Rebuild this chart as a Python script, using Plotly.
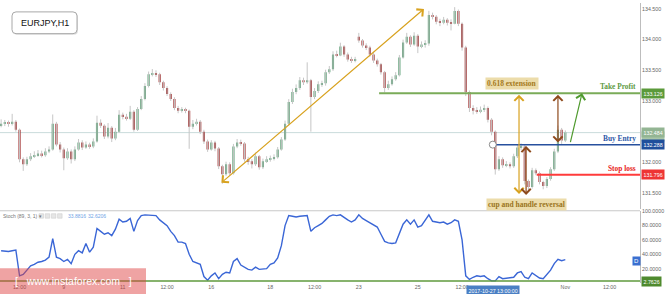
import pandas as pd
import plotly.graph_objects as go

# ---------------- data ----------------
closes = [
    132.629, 132.645, 132.629, 132.661, 132.532, 132.048, 131.968, 132.048, 132.097, 132.113,
    132.145, 132.113, 132.177, 132.210, 132.629, 132.290, 132.210, 132.065, 132.177, 132.048,
    132.210, 132.323, 132.242, 132.290, 132.258, 132.339, 132.645, 132.597, 132.419, 132.565,
    132.387, 132.500, 132.774, 132.742, 132.710, 132.823, 132.532, 132.871, 133.032, 133.242,
    133.435, 133.452, 133.435, 133.306, 133.210, 133.113, 133.032, 132.887, 132.839, 132.855,
    132.839, 132.581, 132.629, 132.661, 132.500, 132.339, 132.210, 132.323, 132.226, 131.935,
    131.806, 131.968, 131.823, 132.258, 132.323, 132.306, 132.048, 132.016, 131.968, 132.097,
    131.919, 132.016, 132.048, 132.065, 132.081, 132.210, 132.371, 132.629, 132.984, 133.145,
    133.210, 133.339, 133.306, 133.339, 133.065, 133.161, 133.274, 133.290, 133.468, 133.516,
    133.758, 133.742, 133.887, 133.758, 133.677, 133.661, 133.677, 133.984, 133.903, 133.871,
    133.758, 133.661, 133.597, 133.468, 133.210, 133.274, 133.355, 133.419, 133.710, 133.952,
    134.048, 133.919, 134.065, 133.887, 133.919, 133.935, 134.403, 134.371, 134.290, 134.274,
    134.323, 134.274, 134.258, 134.468, 134.258, 133.871, 133.145, 132.887, 132.839, 132.823,
    132.855, 132.887, 132.694, 132.500, 131.887, 132.048, 131.952, 131.968, 131.935, 132.097,
    132.242, 132.258, 131.694, 131.597, 131.871, 131.823, 131.677, 131.613, 131.726, 131.887,
    132.177, 132.532, 132.355, 132.484,
]
highs = [
    132.700, 132.690, 132.680, 132.790, 132.690, 132.550, 132.080, 132.090, 132.150, 132.180,
    132.200, 132.190, 132.230, 132.260, 132.780, 132.660, 132.330, 132.240, 132.230, 132.210,
    132.260, 132.380, 132.360, 132.340, 132.320, 132.390, 132.760, 132.700, 132.620, 132.640,
    132.590, 132.560, 132.850, 132.810, 132.790, 132.920, 132.850, 132.900, 133.080, 133.290,
    133.480, 133.520, 133.500, 133.460, 133.330, 133.240, 133.140, 133.060, 132.920, 132.900,
    132.890, 132.860, 132.690, 132.710, 132.690, 132.530, 132.370, 132.360, 132.350, 132.250,
    131.960, 132.010, 132.000, 132.300, 132.380, 132.370, 132.330, 132.090, 132.050, 132.160,
    132.120, 132.060, 132.100, 132.110, 132.130, 132.250, 132.410, 132.680, 133.030, 133.200,
    133.270, 133.390, 133.380, 133.630, 133.360, 133.210, 133.320, 133.330, 133.510, 133.570,
    133.810, 133.820, 133.950, 133.910, 133.790, 133.720, 133.720, 134.110, 134.010, 133.940,
    133.900, 133.790, 133.690, 133.620, 133.490, 133.330, 133.400, 133.470, 133.750, 134.000,
    134.110, 134.070, 134.120, 134.090, 133.970, 133.990, 134.470, 134.440, 134.400, 134.340,
    134.370, 134.350, 134.330, 134.530, 134.490, 134.280, 133.900, 133.170, 132.930, 132.900,
    132.910, 132.940, 132.910, 132.720, 132.520, 132.100, 132.080, 132.020, 132.000, 132.140,
    132.290, 132.310, 132.280, 131.720, 131.910, 131.900, 131.850, 131.700, 131.760, 131.920,
    132.220, 132.600, 132.560, 132.520,
]
lows = [
    132.570, 132.590, 132.580, 132.600, 132.500, 132.000, 131.860, 131.940, 132.020, 132.070,
    132.090, 132.080, 132.090, 132.150, 132.190, 132.260, 132.160, 131.870, 132.040, 131.980,
    132.020, 132.190, 132.200, 132.220, 132.220, 132.230, 132.320, 132.560, 132.380, 132.390,
    132.330, 132.360, 132.480, 132.700, 132.680, 132.690, 132.500, 132.510, 132.850, 133.010,
    133.220, 133.400, 133.390, 133.260, 133.170, 133.080, 133.000, 132.850, 132.800, 132.810,
    132.800, 132.220, 132.540, 132.600, 132.460, 132.300, 132.170, 132.190, 132.180, 131.890,
    131.650, 131.780, 131.790, 131.800, 132.230, 132.270, 132.010, 131.960, 131.900, 131.940,
    131.880, 131.890, 131.990, 132.010, 132.030, 132.060, 132.190, 132.350, 132.600, 132.950,
    133.110, 133.180, 133.260, 133.280, 132.500, 133.030, 133.130, 133.230, 133.250, 133.440,
    133.490, 133.710, 133.730, 133.720, 133.640, 133.620, 133.630, 133.950, 133.870, 133.830,
    133.720, 133.620, 133.560, 133.430, 133.140, 133.180, 133.250, 133.330, 133.400, 133.690,
    133.930, 133.880, 133.900, 133.780, 133.860, 133.870, 133.900, 134.330, 134.250, 134.220,
    134.250, 134.230, 134.150, 134.250, 134.220, 133.820, 133.080, 132.820, 132.780, 132.790,
    132.800, 132.820, 132.650, 132.440, 131.800, 131.860, 131.910, 131.920, 131.900, 131.910,
    132.070, 132.200, 131.640, 131.540, 131.570, 131.790, 131.640, 131.560, 131.580, 131.700,
    131.860, 132.150, 132.300, 132.330,
]
first_open = 132.600
gap_index = 97          # Monday 23 Oct opening gap
gap_open = 134.048

stoch_d = [
    45, 44, 44, 45, 46, 10, 12, 18, 24, 26,
    29, 30, 32, 36, 62, 36, 34, 30, 33, 27,
    40, 45, 42, 55, 43, 50, 76, 72, 68, 70,
    66, 75, 89, 85, 86, 90, 72, 87, 94, 95,
    95, 95, 94, 88, 84, 80, 72, 66, 57, 57,
    55, 40, 30, 28, 26, 9, 4, 10, 14, 6,
    12, 15, 14, 30, 34, 25, 22, 19, 18, 22,
    19, 20, 20, 26, 28, 35, 52, 80, 94, 93,
    92, 93, 93, 94, 72, 77, 80, 83, 88, 93,
    95, 94, 95, 91, 88, 85, 88, 95, 90, 87,
    84, 80, 78, 68, 58, 56, 55, 56, 70, 82,
    88, 82, 88, 78, 80, 88, 95, 86, 85, 84,
    85, 82, 84, 88, 86, 60, 10, 5, 8, 10,
    9, 10, 6, 3, 3, 9, 6, 7, 7, 8,
    14, 16, 8, 6, 14, 10, 7, 6, 12, 18,
    27, 33, 31, 32.62,
]
stoch_main_text = "33.8816"
stoch_signal_text = "32.6206"

take_profit = 133.126
buy_entry = 132.288
stop_loss = 131.796
last_price = 132.484
hidden_price = 132.420
stoch_level = 2.7626

tick_vals = ["2017-10-05 12:00", "2017-10-09", "2017-10-11", "2017-10-12 12:00", "2017-10-16",
             "2017-10-18", "2017-10-19 12:00", "2017-10-23", "2017-10-25", "2017-10-26 12:00",
             "2017-11-01", "2017-11-02 12:00"]
tick_text = ["12:00", "9", "11", "12:00", "16", "18", "12:00", "23", "25", "12:00", "Nov", "12:00"]
price_ticks = [131.5, 132.0, 132.5, 133.0, 133.5, 134.0, 134.5]
stoch_ticks = [20, 40, 60, 80, 100]

# drawing anchors (time, price)
impulse_start = ("2017-10-16 07:00", 131.645)
impulse_end = ("2017-10-25 05:00", 134.500)
tp_start = "2017-10-23 16:30"
entry_time = "2017-10-27 13:00"
sl_start = "2017-10-31 00:45"
ext_arrow = ("2017-10-30 10:20", 133.126, 131.484)
cup_arrow = ("2017-10-30 16:05", 132.290, 131.468)
handle_arrow = ("2017-10-31 18:00", 133.126, 132.323)
target_arrow = (("2017-11-01 03:50", 132.306), ("2017-11-01 13:35", 133.126))
ext_label = ("2017-10-30 05:00", 133.282)
cup_label = ("2017-10-30 16:05", 131.306)
x_range = ["2017-10-04 20:06", "2017-11-03 12:45"]

# ---------------- build ----------------
t = pd.date_range("2017-10-04 21:00", "2017-11-01 00:00", freq="3h")
t = t[t.dayofweek < 5]

opens = [first_open] + closes[:-1]
opens[gap_index] = gap_open
body_lo = [min(o, c) for o, c in zip(opens, closes)]
body_h = [abs(c - o) for o, c in zip(opens, closes)]

UP, DN, WICK = "#4f9a6c", "#9c1f1f", "#c6c6c6"
FONT = "Liberation Sans, Arial, sans-serif"
SERIF = "Liberation Serif, Times New Roman, serif"

wx, wy = [], []
for ti, lo, hi in zip(t, lows, highs):
    wx += [ti, ti, None]
    wy += [lo, hi, None]

fig = go.Figure()
fig.add_trace(go.Scatter(x=wx, y=wy, mode="lines", line=dict(color=WICK, width=1),
                         hoverinfo="skip", xaxis="x", yaxis="y"))
fig.add_trace(go.Bar(x=t, y=body_h, base=body_lo, width=1.7 * 3600 * 1000,
                     marker=dict(color=[UP if c >= o else DN for o, c in zip(opens, closes)],
                                 line=dict(width=0)),
                     hoverinfo="skip", xaxis="x", yaxis="y"))
fig.add_trace(go.Scatter(
    x=t, y=stoch_d, mode="lines", line=dict(color="#3a66d6", width=1.4),
    hoverinfo="skip", xaxis="x2", yaxis="y2"))


def px(x):
    return x / 640


def py(y):
    return (283 - y) / 283


def rounded_rect(x0, y0, x1, y1, r):
    return ("M {a},{b} L {c},{b} Q {e},{b} {e},{f} L {e},{g} Q {e},{h} {c},{h} "
            "L {a},{h} Q {i},{h} {i},{g} L {i},{f} Q {i},{b} {a},{b} Z").format(
        a=px(x0 + r), b=py(y0), c=px(x1 - r), e=px(x1), f=py(y0 + r), g=py(y1 - r),
        h=py(y1), i=px(x0))


shapes = []
shapes.append(dict(type="line", xref="paper", yref="y", x0=0, x1=1, y0=last_price, y1=last_price,
                   line=dict(color="#c9dcdc", width=1), layer="below"))
shapes.append(dict(type="line", xref="paper", yref="paper", x0=0, x1=1, y0=0.258, y1=0.258,
                   line=dict(color="#c8c8c8", width=1)))
shapes.append(dict(type="line", xref="x", yref="y", x0=tp_start, x1=x_range[1], y0=take_profit, y1=take_profit,
                   line=dict(color="#7aab58", width=2)))
shapes.append(dict(type="line", xref="x", yref="y", x0=entry_time, x1=x_range[1], y0=buy_entry, y1=buy_entry,
                   line=dict(color="#27509e", width=1.5)))
shapes.append(dict(type="line", xref="x", yref="y", x0=sl_start, x1=x_range[1], y0=stop_loss, y1=stop_loss,
                   line=dict(color="#ff3b3b", width=2)))
shapes.append(dict(type="circle", xref="x", yref="y", xsizemode="pixel", ysizemode="pixel",
                   xanchor=entry_time, yanchor=buy_entry, x0=-3.5, x1=3.5, y0=-3.5, y1=3.5,
                   fillcolor="white", line=dict(color="#8a8a8a", width=1)))
shapes.append(dict(type="line", xref="paper", yref="y2", x0=0, x1=1, y0=stoch_level, y1=stoch_level,
                   line=dict(color="#5f9a3c", width=1.5)))
for k in range(4):
    x0 = px(39 + k * 6.2)
    shapes.append(dict(type="rect", xref="paper", yref="paper", x0=x0, x1=x0 + 4.5 / 640,
                       y0=py(217.5), y1=py(213),
                       fillcolor="#e6e6e6", line=dict(color="#cfcfcf", width=0.6)))
shapes.append(dict(type="rect", xref="paper", yref="paper", x0=0, x1=px(146),
                   y0=py(295), y1=py(268),
                   fillcolor="rgba(222,62,62,0.48)", line=dict(width=0), layer="above"))
shapes.append(dict(type="path", xref="paper", yref="paper", path=rounded_rect(13, 10, 78, 32, 4),
                   fillcolor="rgba(0,0,0,0.12)", line=dict(width=0), layer="above"))
shapes.append(dict(type="path", xref="paper", yref="paper", path=rounded_rect(12, 9, 77, 31, 4),
                   fillcolor="white", line=dict(color="#a8a8a8", width=1), layer="above"))

ann = []


def arrow(p0, p1, color, both=True):
    d = dict(x=p1[0], y=p1[1], ax=p0[0], ay=p0[1], xref="x", yref="y", axref="x", ayref="y",
             text="", showarrow=True, arrowhead=4, arrowsize=1.5, arrowwidth=1.2,
             arrowcolor=color, standoff=0, startstandoff=0)
    if both:
        d.update(arrowside="end+start", startarrowhead=4, startarrowsize=1.5)
    return d


GOLD, BROWN, GREEN = "#d8a21f", "#8e4a1c", "#4f9a2e"
ann.append(arrow(impulse_start, impulse_end, GOLD))
ann.append(arrow((ext_arrow[0], ext_arrow[1]), (ext_arrow[0], ext_arrow[2]), GOLD))
ann.append(arrow((cup_arrow[0], cup_arrow[1]), (cup_arrow[0], cup_arrow[2]), BROWN))
ann.append(arrow((handle_arrow[0], handle_arrow[1]), (handle_arrow[0], handle_arrow[2]), BROWN))
ann.append(arrow(target_arrow[0], target_arrow[1], GREEN, both=False))

ann.append(dict(x=ext_label[0], y=ext_label[1], xref="x", yref="y", xanchor="center",
                text="<b>0.618 extension</b>", showarrow=False, bgcolor="#ecdcaa", borderpad=1,
                font=dict(family=SERIF, size=7.5, color="#a57a1c")))
ann.append(dict(x=cup_label[0], y=cup_label[1], xref="x", yref="y", xanchor="center",
                text="<b>cup and handle reversal</b>", showarrow=False, bgcolor="#ecdcaa", borderpad=1,
                font=dict(family=SERIF, size=7.5, color="#9a7420")))

for txt, lvl, col in [("Take Profit", take_profit, "#5e9a44"),
                      ("Buy Entry", buy_entry, "#2e5aa8"),
                      ("Stop loss", stop_loss, "#e82222")]:
    ann.append(dict(x=0.997, xref="paper", xanchor="right", y=lvl, yref="y", yanchor="bottom",
                    text="<b>%s</b>" % txt, showarrow=False,
                    font=dict(family=SERIF, size=7.4, color=col)))


def tag(val, yref, text, bg):
    return dict(x=1, xref="paper", xanchor="left", xshift=1, y=val, yref=yref, yanchor="middle",
                text=text, showarrow=False, bgcolor=bg, borderpad=1.5,
                font=dict(family=FONT, size=5.3, color="white"))


ann.append(tag(hidden_price, "y", "&nbsp;" * 13, "#a9c6a9"))
ann.append(tag(last_price, "y", "%.3f" % last_price, "#93b593"))
ann.append(tag(take_profit, "y", "%.3f" % take_profit, "#5b9a3a"))
ann.append(tag(buy_entry, "y", "%.3f" % buy_entry, "#1f4f9c"))
ann.append(tag(stop_loss, "y", "%.3f" % stop_loss, "#ee3434"))
ann.append(tag(stoch_level, "y2", "%.4f" % stoch_level, "#4f8a2e"))

ann.append(dict(x=px(44.5), y=py(20), xref="paper", yref="paper", xanchor="center",
                yanchor="middle", text="EURJPY,H1", showarrow=False,
                font=dict(family=FONT, size=9, color="#111")))
hy = py(215)
ann.append(dict(x=px(1), y=hy, xref="paper", yref="paper", xanchor="left", yanchor="middle",
                text="Stoch (89, 3, 1) \u25be", showarrow=False,
                font=dict(family=FONT, size=5, color="#777")))
ann.append(dict(x=px(66), y=hy, xref="paper", yref="paper", xanchor="left", yanchor="middle",
                text=stoch_main_text, showarrow=False, font=dict(family=FONT, size=5, color="#6fa3e6")))
ann.append(dict(x=px(86), y=hy, xref="paper", yref="paper", xanchor="left", yanchor="middle",
                text=stoch_signal_text, showarrow=False, font=dict(family=FONT, size=5, color="#6fa3e6")))
ann.append(dict(x=px(636.5), y=py(260.5), xref="paper", yref="paper", xanchor="center",
                yanchor="middle", text="D", showarrow=False, bgcolor="#3a6fd0", borderpad=1,
                font=dict(family=FONT, size=6, color="white")))
ann.append(dict(x=px(493), y=py(290.5), xref="paper", yref="paper", xanchor="center",
                yanchor="middle", text="2017-10-27 13:00:00", showarrow=False, bgcolor="#4a7fc4",
                borderpad=1.5, font=dict(family=FONT, size=5.3, color="white")))
ann.append(dict(x=px(73), y=py(281), xref="paper", yref="paper", xanchor="center",
                yanchor="middle", text="[&nbsp;&nbsp;&nbsp;www.instaforex.com&nbsp;&nbsp;&nbsp;]",
                showarrow=False, font=dict(family=FONT, size=10.5, color="white")))

rb = [dict(bounds=["sat", "mon"])]
fig.update_layout(
    width=665, height=294, margin=dict(l=0, r=25, t=0, b=11, pad=0),
    paper_bgcolor="white", plot_bgcolor="white", showlegend=False, barmode="overlay",
    font=dict(family=FONT, size=5.3, color="#666"),
    xaxis=dict(domain=[0, 1], anchor="y", type="date", range=x_range, rangebreaks=rb,
               showticklabels=False, showgrid=False, zeroline=False, ticks=""),
    xaxis2=dict(domain=[0, 1], anchor="y2", type="date", matches="x", rangebreaks=rb,
                tickmode="array", tickvals=tick_vals, ticktext=tick_text, showgrid=False,
                zeroline=False, ticks="", tickfont=dict(size=5.3, color="#666")),
    yaxis=dict(domain=[0.265, 1], range=[131.242, 134.597], side="right", tickmode="array",
               tickvals=price_ticks, tickformat=".3f", showgrid=False, zeroline=False,
               showline=True, linecolor="#bdbdbd", linewidth=1, ticks="",
               tickfont=dict(size=5.3, color="#666")),
    yaxis2=dict(domain=[0, 0.2562], range=[0, 100], side="right", tickmode="array",
                tickvals=stoch_ticks, tickformat=".4f", showgrid=False, zeroline=False,
                showline=True, linecolor="#bdbdbd", linewidth=1, ticks="",
                tickfont=dict(size=5.3, color="#666")),
    shapes=shapes, annotations=ann,
)

fig.write_html("out.html")
